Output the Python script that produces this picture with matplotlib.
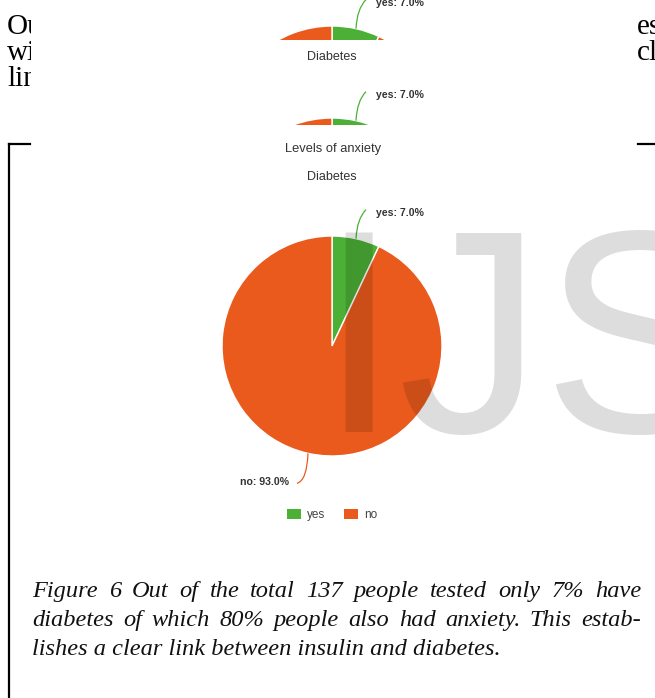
import matplotlib
matplotlib.use("Agg")
import matplotlib.pyplot as plt
import numpy as np
from matplotlib.patches import Rectangle, PathPatch
from matplotlib.path import Path

W, H = 655, 698

# pie data
labels = ["yes", "no"]
shares = [7.0, 93.0]
colors = ["#4cb036", "#eb5a1d"]

chart_title = "Levels of anxiety"
pie_title = "Diabetes"
caption_lines = [
    "Figure 6 Out of the total 137 people tested only 7% have",
    "diabetes of which 80% people also had anxiety. This estab-",
    "lishes a clear link between insulin and diabetes.",
]
page_left = ["Out", "with", "link"]
page_right = ["es", "cl"]

RADIUS = 110
CX = 332


def Y(py):
    """pixel row (from top) -> data y"""
    return H - py


fig = plt.figure(figsize=(W / 100, H / 100), dpi=100)


def pixel_axes(x0, y0, x1, y1):
    """axes over a pixel box, data units = pixels"""
    a = fig.add_axes([x0 / W, 1 - y1 / H, (x1 - x0) / W, (y1 - y0) / H])
    a._box = (x0, y0, x1, y1)
    return a


def fix_limits(a):
    x0, y0, x1, y1 = a._box
    a.set_xlim(x0, x1)
    a.set_ylim(Y(y1), Y(y0))
    a.set_aspect("auto")
    a.axis("off")


def draw_pie(a, cy):
    wedges, _ = a.pie(shares, colors=colors, startangle=90, counterclock=False,
                      radius=RADIUS, center=(CX, Y(cy)),
                      wedgeprops=dict(edgecolor="white", linewidth=1.0))
    for w in wedges:
        w.set_zorder(2)
        w.set_clip_on(True)  # pie turns clipping off by default
    # leader lines + labels, anchored on each wedge's mid angle
    ang0 = 90.0
    total = sum(shares)
    for lab, val, col in zip(labels, shares, colors):
        span = 360.0 * val / total
        mid = np.deg2rad(ang0 - span / 2)
        ang0 -= span
        sx = CX + RADIUS * np.cos(mid)
        sy = Y(cy) + RADIUS * np.sin(mid)
        if np.sin(mid) > 0:
            ctrl = (sx + 1, sy + 20)
            end = (sx + 10, sy + 29)
            tx, ty, ha = end[0] + 10, end[1] - 3, "left"
        else:
            ctrl = (sx - 1, sy - 27)
            end = (sx - 11, sy - 30)
            tx, ty, ha = end[0] - 8, end[1] + 1, "right"
        path = Path([(sx, sy), ctrl, end], [Path.MOVETO, Path.CURVE3, Path.CURVE3])
        a.add_patch(PathPatch(path, fc="none", ec=col, lw=0.9, zorder=3))
        a.text(tx, ty, f"{lab}: {val:.1f}%", fontsize=7.6, fontweight="bold",
               family="Liberation Sans", color="#333333", ha=ha, va="center",
               zorder=3, clip_on=True)


# page layer: body text on both sides, frame and caption
ax = pixel_axes(0, 0, W, H)
for i, word in enumerate(page_left):
    ax.text(7, Y(34 + i * 26), word, fontsize=21, family="Liberation Serif",
            color="black", ha="left", va="baseline", zorder=0)
for i, word in enumerate(page_right):
    ax.text(637, Y(34 + i * 26), word, fontsize=21, family="Liberation Serif",
            color="black", ha="left", va="baseline", zorder=0)
ax.add_patch(Rectangle((31, Y(142)), 606, 142, fc="white", ec="none", zorder=1))

# main chart
draw_pie(ax, 346)
ax.text(CX + 1, Y(149), chart_title, fontsize=9.3, family="Liberation Sans",
        color="#333333", ha="center", va="center", zorder=3)
ax.text(CX, Y(177), pie_title, fontsize=9, family="Liberation Sans",
        color="#333333", ha="center", va="center", zorder=3)

handles = [Rectangle((0, 0), 1, 1, fc=c, ec="none") for c in colors]
leg = fig.legend(handles, labels, loc="center", bbox_to_anchor=(332 / W, 1 - 515 / H),
                 ncol=2, frameon=False, fontsize=8.5, handlelength=1.2,
                 handleheight=0.9, handletextpad=0.5, columnspacing=1.6)
for t in leg.get_texts():
    t.set_color("#444444")
    t.set_family("Liberation Sans")

# watermark
ax.text(318, Y(432), "IJSER", fontsize=208, family="Liberation Sans",
        color="black", alpha=0.135, ha="left", va="baseline", zorder=5)

# frame
ax.plot([9, 9], [Y(144), Y(H + 5)], color="black", lw=1.6, zorder=6,
        solid_capstyle="projecting")
ax.plot([9, 30], [Y(144), Y(144)], color="black", lw=1.6, zorder=6)
ax.plot([638, W + 5], [Y(144), Y(144)], color="black", lw=1.6, zorder=6)

# caption, first two lines justified
renderer = fig.canvas.get_renderer()
left, right = 32, 641
base = [597, 626, 655]
cap_kw = dict(fontsize=17.6, family="Liberation Serif", style="italic",
              color="#111111", va="baseline", ha="left", zorder=6)
for i, line in enumerate(caption_lines):
    words = line.split()
    if i < 2:
        arts = [ax.text(0, Y(base[i]), w, **cap_kw) for w in words]
        widths = [t.get_window_extent(renderer).width for t in arts]
        gap = (right - left - sum(widths)) / (len(words) - 1)
        x = left
        for t, wd in zip(arts, widths):
            t.set_x(x)
            x += wd + gap
    else:
        ax.text(left, Y(base[i]), line, **cap_kw)
fix_limits(ax)

# repeated chart fragments at the top, cut by their strips
frag1 = pixel_axes(31, 0, 637, 40)
draw_pie(frag1, 136)
fix_limits(frag1)

frag2 = pixel_axes(31, 44, 637, 125)
draw_pie(frag2, 228)
frag2.text(CX, Y(57), pie_title, fontsize=9, family="Liberation Sans",
           color="#333333", ha="center", va="center", zorder=3, clip_on=True)
fix_limits(frag2)

fig.savefig("out.png", dpi=100)
